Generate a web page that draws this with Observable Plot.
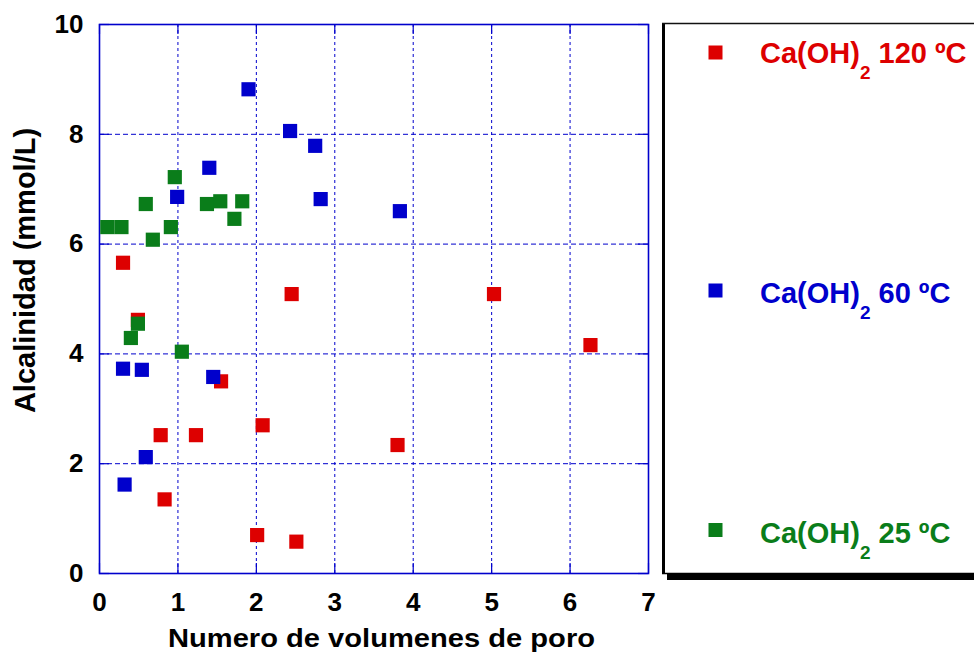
<!DOCTYPE html>
<html><head><meta charset="utf-8">
<script src="https://cdn.jsdelivr.net/npm/d3@7"></script>
<script src="https://cdn.jsdelivr.net/npm/@observablehq/plot@0.6"></script>
<style>body{margin:0;background:#fff;overflow:hidden}</style>
</head><body><div id="chart"></div>
<script>
// ---- data ----
const seriesNames = ["120 ºC", "60 ºC", "25 ºC"];
const seriesColors = ["#dd0000", "#0000cc", "#0a7d1a"];
const x120 = [0.30, 0.49, 0.78, 0.83, 1.23, 1.55, 2.01, 2.08, 2.45, 2.51, 3.80, 5.03, 6.26];
const y120 = [5.66, 4.62, 2.52, 1.35, 2.52, 3.50, 0.70, 2.70, 5.09, 0.58, 2.34, 5.09, 4.16];
const x60 = [0.30, 0.32, 0.54, 0.59, 0.99, 1.40, 1.45, 1.90, 2.43, 2.75, 2.82, 3.83];
const y60 = [3.73, 1.62, 3.71, 2.12, 6.86, 7.39, 3.58, 8.82, 8.06, 7.79, 6.82, 6.60];
const x25 = [0.10, 0.28, 0.40, 0.49, 0.59, 0.68, 0.91, 0.96, 1.05, 1.37, 1.54, 1.72, 1.82];
const y25 = [6.31, 6.31, 4.29, 4.55, 6.73, 6.08, 6.31, 7.22, 4.04, 6.73, 6.78, 6.46, 6.78];
const xTicks = [0, 1, 2, 3, 4, 5, 6, 7];
const yTicks = [0, 2, 4, 6, 8, 10];
const xLabel = "Numero de volumenes de poro";
const yLabel = "Alcalinidad (mmol/L)";
const legendPrefix = "Ca(OH)";
const legendSub = "2";

// ---- build ----
const seriesX = [x120, x60, x25];
const seriesY = [y120, y60, y25];
const series = seriesNames.map((name, i) => ({
  name, color: seriesColors[i],
  points: seriesX[i].map((x, j) => ({x, y: seriesY[i][j]}))
}));

const W = 974, H = 660, mL = 99, mR = 326, mT = 24, mB = 87;
const pw = W - mL - mR, ph = H - mT - mB;
const font = "'Liberation Sans', Arial, Helvetica, sans-serif";
const gridBlue = "#0000cc";

const plot = Plot.plot({
  width: W, height: H,
  marginLeft: mL, marginRight: mR, marginTop: mT, marginBottom: mB,
  style: {fontFamily: font, fontWeight: "bold", fontSize: "26px", background: "white", color: "black"},
  x: {domain: [0, 7], ticks: xTicks, tickSize: 0, tickPadding: 19, label: null, tickFormat: d => String(d)},
  y: {domain: [0, 10], ticks: yTicks, tickSize: 0, tickPadding: 16, label: null, tickFormat: d => String(d)},
  marks: [
    Plot.ruleX(xTicks.slice(1, -1), {x: d => d, stroke: gridBlue, strokeWidth: 1, strokeDasharray: "3,3"}),
    Plot.ruleY(yTicks.slice(1, -1), {y: d => d, stroke: gridBlue, strokeWidth: 1, strokeDasharray: "5,3"}),
    Plot.tickY(yTicks, {y: d => d, insetRight: pw - 10, stroke: gridBlue, strokeWidth: 1.2}),
    Plot.tickY(yTicks, {y: d => d, insetLeft: pw - 10, stroke: gridBlue, strokeWidth: 1.2}),
    Plot.tickX(xTicks, {x: d => d, insetTop: ph - 10, stroke: gridBlue, strokeWidth: 1.2}),
    Plot.tickX(xTicks, {x: d => d, insetBottom: ph - 10, stroke: gridBlue, strokeWidth: 1.2}),
    Plot.frame({stroke: gridBlue, strokeWidth: 1.6}),
    ...series.map(s => Plot.dot(s.points, {x: "x", y: "y", symbol: "square", r: 8, fill: s.color, stroke: null}))
  ]
});

const svg = d3.select(plot);

// axis titles
svg.append("text")
  .attr("transform", "translate(25,270.5) rotate(-90)")
  .attr("text-anchor", "middle").attr("dy", "0.36em")
  .attr("font-family", font).attr("font-weight", "bold").attr("font-size", 29).attr("fill", "#000")
  .text(yLabel);
svg.append("text")
  .attr("x", 381.5).attr("y", 647)
  .attr("text-anchor", "middle")
  .attr("font-family", font).attr("font-weight", "bold").attr("font-size", 26).attr("fill", "#000")
  .attr("textLength", 427).attr("lengthAdjust", "spacingAndGlyphs")
  .text(xLabel);

// ---- legend box ----
const lg = svg.append("g").attr("class", "legend-box").attr("text-anchor", "start");
lg.append("rect").attr("x", 667).attr("y", 26).attr("width", 400).attr("height", 554).attr("fill", "#000");
lg.append("rect").attr("x", 662).attr("y", 23).attr("width", 400).attr("height", 551).attr("fill", "#fff");
lg.append("line").attr("x1", 663.5).attr("x2", 663.5).attr("y1", 23).attr("y2", 574).attr("stroke", "#000").attr("stroke-width", 3);
lg.append("line").attr("x1", 662).attr("x2", 1000).attr("y1", 23.5).attr("y2", 23.5).attr("stroke", "#111").attr("stroke-width", 1.5);
lg.append("line").attr("x1", 662).attr("x2", 1000).attr("y1", 573.5).attr("y2", 573.5).attr("stroke", "#000").attr("stroke-width", 1.5);

const markerY = [52.5, 290.5, 530];
const baseY = [63.3, 302.7, 543.3];
series.forEach((s, i) => {
  lg.append("rect").attr("x", 708.5).attr("y", markerY[i] - 7).attr("width", 14).attr("height", 14).attr("fill", s.color);
  const t = lg.append("text").attr("x", 760).attr("y", baseY[i]).attr("text-anchor", "start")
    .attr("fill", s.color).attr("font-family", font).attr("font-weight", "bold").attr("font-size", 29);
  t.append("tspan").text(legendPrefix);
  t.append("tspan").attr("dy", 16).attr("font-size", 19).text(legendSub);
  t.append("tspan").attr("dy", -16).text(" " + s.name);
});

document.getElementById("chart").appendChild(plot);
</script>
</body></html>
